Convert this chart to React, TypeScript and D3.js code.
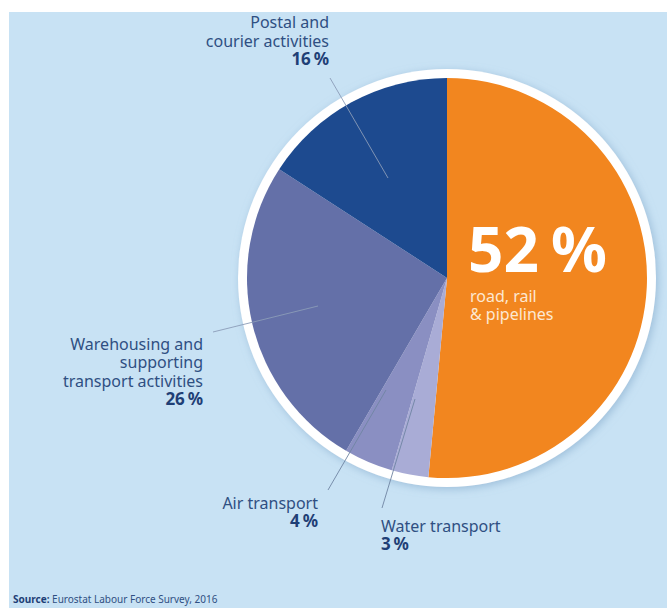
import React from "react";
import * as d3 from "d3";

const categories = ["road, rail & pipelines", "Water transport", "Air transport", "Warehousing and supporting transport activities", "Postal and courier activities"];
const values = [52, 3, 4, 26, 16];
const colors = ["#f2861f", "#a9acd6", "#8a8fc2", "#6470a8", "#1d4a8f"];

const W = 667, H = 608;
const cx = 447, cy = 278, R = 200;

export default function App() {
  const pie = d3.pie<number>().sort(null).value(d => d).startAngle(0).endAngle(2 * Math.PI);
  const arcs = pie(values);
  const arc = d3.arc<d3.PieArcDatum<number>>().innerRadius(0).outerRadius(R);
  const font = "'Noto Sans', sans-serif";
  const txt = "#2f4f82";
  const bold = "#1f3f76";
  const lineC = "#8b9cb8";
  const pct = (v: number) => `${v}\u2009%`;
  return (
    <svg width={W} height={H} style={{ position: "absolute", left: 0, top: 0 }} fontFamily={font}>
      <defs>
        <filter id="sh" x="-20%" y="-20%" width="140%" height="140%">
          <feGaussianBlur in="SourceAlpha" stdDeviation="4" />
          <feOffset dx="2" dy="2" result="b" />
          <feFlood floodColor="#7fa6c8" floodOpacity="0.6" />
          <feComposite in2="b" operator="in" />
          <feMerge>
            <feMergeNode />
            <feMergeNode in="SourceGraphic" />
          </feMerge>
        </filter>
      </defs>
      <rect x={0} y={0} width={W} height={H} fill="#ffffff" />
      <rect x={9} y={12} width={W - 9} height={H - 12} fill="#c8e2f4" />
      <circle cx={cx} cy={cy} r={R + 9} fill="#ffffff" filter="url(#sh)" />
      <g transform={`translate(${cx},${cy})`}>
        {arcs.map((a, i) => (
          <path key={categories[i]} d={arc(a) as string} fill={colors[i]} />
        ))}
      </g>
      <line x1={330} y1={78} x2={388} y2={178} stroke={lineC} strokeWidth={0.9} />
      <line x1={213} y1={332} x2={318} y2={306} stroke={lineC} strokeWidth={0.9} />
      <line x1={386} y1={390} x2={328} y2={490} stroke="#6f84a3" strokeWidth={0.9} />
      <line x1={415} y1={399} x2={382} y2={508} stroke="#6f84a3" strokeWidth={0.9} />

      <g fontSize={16} fill={txt}>
        <text x={329} y={28} textAnchor="end">Postal and</text>
        <text x={329} y={47} textAnchor="end">courier activities</text>
        <text x={329} y={65} textAnchor="end" fontWeight="bold" fontSize={17} fill={bold}>{pct(values[4])}</text>

        <text x={203} y={350} textAnchor="end">Warehousing and</text>
        <text x={203} y={368} textAnchor="end">supporting</text>
        <text x={203} y={387} textAnchor="end">transport activities</text>
        <text x={203} y={405} textAnchor="end" fontWeight="bold" fontSize={17} fill={bold}>{pct(values[3])}</text>

        <text x={318} y={509} textAnchor="end">Air transport</text>
        <text x={318} y={527} textAnchor="end" fontWeight="bold" fontSize={17} fill={bold}>{pct(values[2])}</text>

        <text x={381} y={532}>Water transport</text>
        <text x={381} y={550} fontWeight="bold" fontSize={17} fill={bold}>{pct(values[1])}</text>
      </g>

      <text x={468} y={272} fontSize={62} fontWeight="bold" fill="#ffffff">{values[0]}<tspan dx={12}>%</tspan></text>
      <text x={470} y={302} fontSize={16} fill="#fde8d2">road, rail</text>
      <text x={470} y={320} fontSize={16} fill="#fde8d2">&amp; pipelines</text>

      <text x={13} y={603} fontSize={10} fill={txt}>
        <tspan fontWeight="bold" fill={bold}>Source:</tspan> Eurostat Labour Force Survey, 2016
      </text>
    </svg>
  );
}
